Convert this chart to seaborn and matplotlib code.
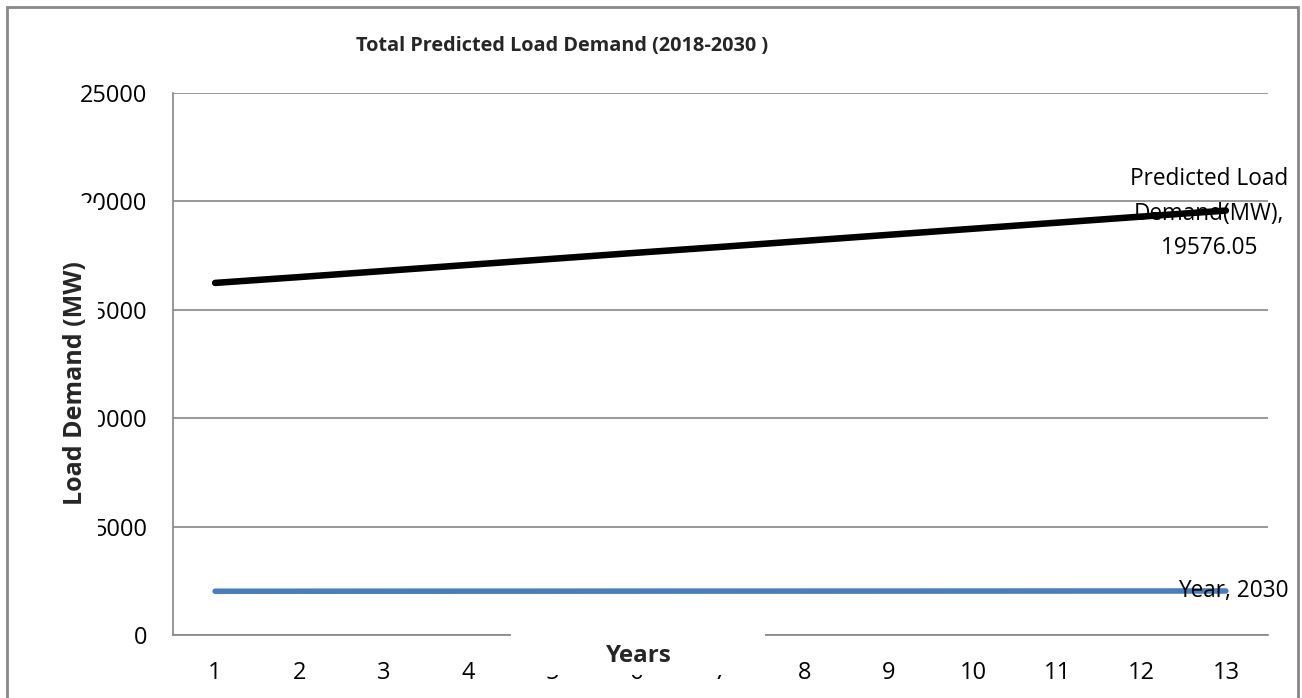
import matplotlib
matplotlib.use("Agg")
import matplotlib.pyplot as plt
import seaborn as sns
import pandas as pd
from matplotlib.patches import Rectangle

# ---- data ----
year_index = list(range(1, 14))
years = [2018, 2019, 2020, 2021, 2022, 2023, 2024, 2025, 2026, 2027, 2028, 2029, 2030]
predicted_load = [16240, 16510, 16790, 17070, 17350, 17630, 17900, 18180, 18460,
                  18740, 19020, 19300, 19576.05]
y_ticks = [0, 5000, 10000, 15000, 20000, 25000]
series_names = ["Year", "Predicted Load Demand(MW)"]

df = pd.DataFrame({
    "idx": year_index * 2,
    "value": years + predicted_load,
    "series": [series_names[0]] * len(years) + [series_names[1]] * len(predicted_load),
})

sns.set_theme(style="white")
plt.rcParams["font.family"] = ["Open Sans", "DejaVu Sans"]

W, H = 1302, 698
fig = plt.figure(figsize=(W / 100, H / 100), dpi=100)
fig.patch.set_facecolor("white")

def fx(px):
    return px / W

def fy(py):
    return 1 - py / H

ax = fig.add_axes([fx(173), fy(635), fx(1268) - fx(173), fy(93) - fy(635)])

sns.lineplot(data=df[df.series == series_names[0]], x="idx", y="value",
             color="#4A7EBB", linewidth=4.0, ax=ax, legend=False,
             solid_capstyle="round")
sns.lineplot(data=df[df.series == series_names[1]], x="idx", y="value",
             color="black", linewidth=4.7, ax=ax, legend=False,
             solid_capstyle="round")

ax.set_xlim(0.5, 13.5)
ax.set_ylim(0, 25000)
ax.set_xticks(year_index)
ax.set_xticklabels([str(i) for i in year_index])
ax.set_yticks(y_ticks)
ax.set_yticklabels([str(v) for v in y_ticks])
ax.tick_params(axis="both", length=0, labelsize=17, colors="black")
ax.tick_params(axis="y", pad=18.5)
ax.tick_params(axis="x", pad=18.5)
ax.yaxis.grid(True, color="#868686", linewidth=1.2)
ax.xaxis.grid(False)
for s in ["top", "right"]:
    ax.spines[s].set_visible(False)
for s in ["left", "bottom"]:
    ax.spines[s].set_color("#868686")
    ax.spines[s].set_linewidth(1.2)
ax.set_xlabel("")
ax.set_ylabel("")

# data labels
ax.annotate("Predicted Load\nDemand(MW),\n19576.05", xy=(13, predicted_load[-1]),
            xytext=(-17, -3), textcoords="offset pixels", ha="center", va="center",
            fontsize=16.3, linespacing=1.6, color="black")
ax.annotate("Year, 2030", xy=(13, years[-1]), xytext=(-48, 0),
            textcoords="offset pixels", ha="left", va="center",
            fontsize=16.3, color="black")

# figure border
fig.patches.append(Rectangle((fx(7), fy(720)), fx(1298) - fx(7), fy(7) - fy(720),
                             transform=fig.transFigure, fill=False,
                             edgecolor="#888888", linewidth=2, zorder=1))
# white boxes behind axis titles
fig.patches.append(Rectangle((fx(50), fy(538)), fx(98) - fx(50), fy(203) - fy(538),
                             transform=fig.transFigure, facecolor="white",
                             edgecolor="none", zorder=2))
fig.patches.append(Rectangle((fx(511), fy(675)), fx(765) - fx(511), fy(633) - fy(675),
                             transform=fig.transFigure, facecolor="white",
                             edgecolor="none", zorder=2))

fig.text(fx(562), fy(46), "Total Predicted Load Demand (2018-2030 )", ha="center",
         va="center", fontsize=14.3, fontweight="bold", zorder=3)
fig.text(fx(75), fy(383), "Load Demand (MW)", rotation=90, ha="center", va="center",
         fontsize=18, fontweight="bold", zorder=3)
fig.text(fx(639), fy(656), "Years", ha="center", va="center",
         fontsize=17.4, fontweight="bold", zorder=3)

fig.savefig("out.png", dpi=100)
